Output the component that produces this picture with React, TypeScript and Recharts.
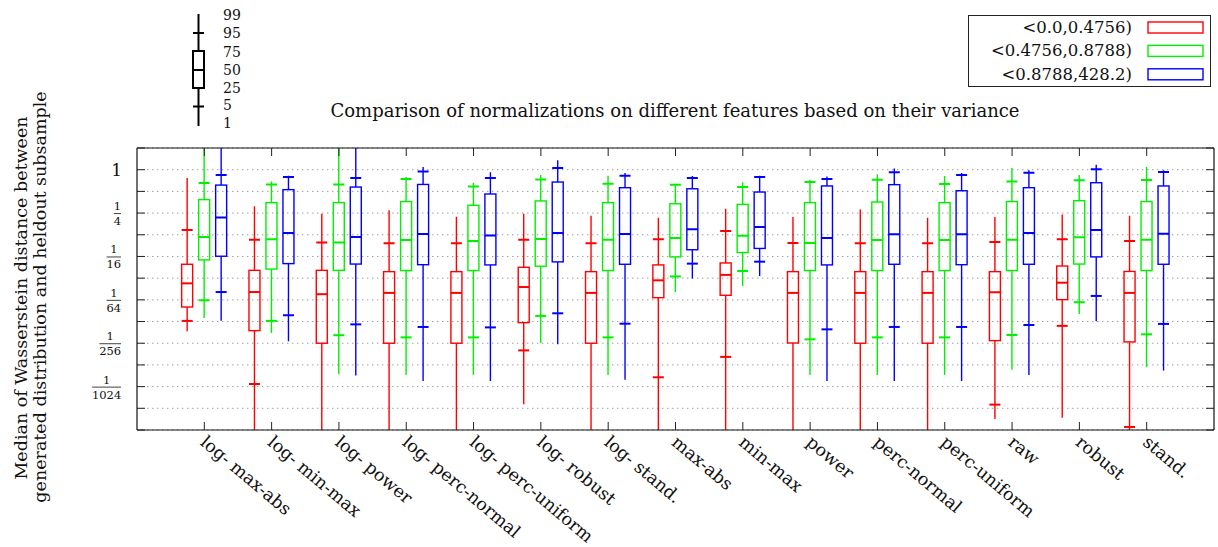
import React from 'react';
import { ComposedChart, Bar, XAxis, YAxis, CartesianGrid, Legend } from 'recharts';

const FONT = '"DejaVu Serif", serif';

// categories (x axis)
const categories = [
  'log- max-abs', 'log- min-max', 'log- power', 'log- perc-normal', 'log- perc-uniform',
  'log- robust', 'log- stand.', 'max-abs', 'min-max', 'power', 'perc-normal',
  'perc-uniform', 'raw', 'robust', 'stand.',
];

// percentiles [1, 5, 25, 50, 75, 95, 99], values in log2 units
const redStats = [
  [-7.45, -6.97, -6.33, -5.24, -4.36, -2.78, -0.38],
  [-13, -9.88, -7.42, -5.64, -4.64, -3.23, -1.69],
  [-13, -12.6, -8.0, -5.74, -4.64, -3.36, -2.03],
  [-13, -12.6, -8.0, -5.68, -4.7, -3.39, -1.87],
  [-13, -12.6, -8.0, -5.68, -4.7, -3.39, -2.17],
  [-10.81, -8.33, -7.05, -5.41, -4.5, -3.23, -2.03],
  [-13, -12.6, -8.0, -5.68, -4.7, -3.39, -2.12],
  [-13, -9.57, -5.9, -5.1, -4.39, -3.21, -2.21],
  [-13, -8.63, -5.79, -4.85, -4.3, -2.83, -1.8],
  [-13, -12.6, -7.99, -5.68, -4.7, -3.38, -2.18],
  [-13, -12.6, -8.0, -5.68, -4.7, -3.39, -1.83],
  [-13, -12.6, -8.0, -5.68, -4.7, -3.39, -2.21],
  [-11.49, -10.83, -7.88, -5.65, -4.7, -3.33, -2.18],
  [-11.44, -7.2, -5.99, -5.21, -4.44, -3.21, -2.06],
  [-13, -11.86, -7.94, -5.68, -4.69, -3.29, -2.12],
];

const greenStats = [
  [-6.84, -6.02, -4.16, -3.1, -1.38, -0.61, 1.2],
  [-7.53, -6.97, -4.58, -3.21, -1.52, -0.68, -0.54],
  [-9.43, -7.63, -4.64, -3.36, -1.52, -0.68, 1.2],
  [-9.46, -7.73, -4.65, -3.24, -1.47, -0.43, -0.34],
  [-9.46, -7.73, -4.65, -3.29, -1.64, -0.77, -0.6],
  [-7.99, -6.74, -4.45, -3.2, -1.44, -0.45, -0.25],
  [-9.46, -7.73, -4.65, -3.23, -1.52, -0.65, -0.28],
  [-5.64, -4.92, -4.02, -3.15, -1.57, -0.69, -0.65],
  [-5.36, -4.67, -3.82, -3.04, -1.6, -0.8, -0.58],
  [-9.46, -7.82, -4.65, -3.38, -1.52, -0.57, -0.46],
  [-9.46, -7.73, -4.65, -3.24, -1.49, -0.46, -0.22],
  [-9.46, -7.73, -4.65, -3.24, -1.52, -0.66, -0.29],
  [-9.22, -7.62, -4.65, -3.23, -1.47, -0.55, 0.08],
  [-6.65, -6.11, -4.35, -3.12, -1.43, -0.49, -0.25],
  [-9.09, -7.59, -4.65, -3.23, -1.47, -0.48, 0.12],
];

const blueStats = [
  [-6.96, -5.64, -3.99, -2.2, -0.71, -0.25, 1.2],
  [-7.91, -6.71, -4.33, -2.92, -0.92, -0.34, -0.28],
  [-9.49, -7.13, -4.35, -3.1, -0.8, -0.38, 1.2],
  [-9.74, -7.25, -4.38, -2.96, -0.68, -0.08, 0.12],
  [-9.74, -7.27, -4.39, -3.03, -1.12, -0.38, -0.12],
  [-8.05, -6.62, -4.25, -2.92, -0.57, 0.08, 0.43],
  [-9.68, -7.1, -4.36, -2.96, -0.83, -0.28, -0.15],
  [-5.02, -4.33, -3.69, -2.75, -0.88, -0.38, -0.29],
  [-4.9, -4.24, -3.63, -2.64, -1.03, -0.34, -0.28],
  [-9.74, -7.36, -4.39, -3.15, -0.75, -0.43, -0.31],
  [-9.74, -7.25, -4.36, -2.98, -0.69, -0.12, 0.05],
  [-9.74, -7.25, -4.38, -2.98, -0.97, -0.25, -0.15],
  [-9.46, -7.16, -4.36, -2.92, -0.83, -0.14, -0.03],
  [-6.99, -5.82, -4.02, -2.78, -0.6, 0.02, 0.23],
  [-9.26, -7.11, -4.36, -2.95, -0.75, -0.11, -0.03],
];

const seriesKeys = ['red', 'green', 'blue'];
const seriesNames = ['<0.0,0.4756)', '<0.4756,0.8788)', '<0.8788,428.2)'];
const seriesColors = ['#ff0000', '#00f000', '#0000ff'];

const yDomain = [-12, 1];
const yTicks = [-12, -11, -10, -9, -8, -7, -6, -5, -4, -3, -2, -1, 0, 1];
const yTickDenominators: Record<string, string> = { '-2': '4', '-4': '16', '-6': '64', '-8': '256', '-10': '1024' };

const keyLabels = ['99', '95', '75', '50', '25', '5', '1'];

const title = 'Comparison of normalizations on different features based on their variance';
const yLabelLines = ['Median of Wasserstein distance between', 'generated distribution and heldout subsample'];

const data = categories.map((name, i) => ({
  name,
  red: redStats[i],
  green: greenStats[i],
  blue: blueStats[i],
}));

const makeBoxShape = (key: string, color: string) => (props: any) => {
  const { x, y, width, height, payload } = props;
  const s: number[] = payload[key];
  if (!s || height === undefined) return <g />;
  const top = Math.min(y, y + height);
  const bot = Math.max(y, y + height);
  const p1 = s[0];
  const p99 = s[6];
  const py = (v: number) => top + ((bot - top) * (p99 - v)) / (p99 - p1);
  const cx = x + width / 2;
  const hw = 5.5;
  const lw = 1.4;
  return (
    <g>
      <line x1={cx} x2={cx} y1={py(p99)} y2={py(s[4])} stroke={color} strokeWidth={lw} />
      <line x1={cx} x2={cx} y1={py(s[2])} y2={py(p1)} stroke={color} strokeWidth={lw} />
      <rect x={cx - hw} y={py(s[4])} width={hw * 2} height={py(s[2]) - py(s[4])} fill="none" stroke={color} strokeWidth={lw} />
      <line x1={cx - hw} x2={cx + hw} y1={py(s[3])} y2={py(s[3])} stroke={color} strokeWidth={2} />
      <line x1={cx - hw} x2={cx + hw} y1={py(s[5])} y2={py(s[5])} stroke={color} strokeWidth={2} />
      <line x1={cx - hw} x2={cx + hw} y1={py(s[1])} y2={py(s[1])} stroke={color} strokeWidth={2} />
    </g>
  );
};

const BottomTick = (props: any) => {
  const { x, y, payload } = props;
  const lx = x - 5;
  const ly = y + 14;
  return (
    <g>
      <line x1={x} x2={x} y1={y} y2={y - 8} stroke="#222" strokeWidth={1} />
      <text x={lx} y={ly} transform={`rotate(40, ${lx}, ${ly})`} textAnchor="start" fontFamily={FONT} fontSize={17.5} fill="#111">
        {payload.value}
      </text>
    </g>
  );
};

const TopTick = (props: any) => {
  const { x, y } = props;
  return <line x1={x} x2={x} y1={y} y2={y + 8} stroke="#222" strokeWidth={1} />;
};

const LeftTick = (props: any) => {
  const { x, y, payload } = props;
  const v = payload.value;
  const den = yTickDenominators[String(v)];
  const right = x - 16;
  const denWidth = den ? den.length * 7.2 : 0;
  return (
    <g>
      <line x1={x} x2={x + 8} y1={y} y2={y} stroke="#222" strokeWidth={1} />
      {v === 0 && (
        <text x={right + 1} y={y + 6} textAnchor="end" fontFamily={FONT} fontSize={17} fill="#111">1</text>
      )}
      {den && (
        <g>
          <text x={right - denWidth / 2} y={y - 3} textAnchor="middle" fontFamily={FONT} fontSize={11.5} fill="#111">1</text>
          <line x1={right - denWidth} x2={right} y1={y + 0.5} y2={y + 0.5} stroke="#111" strokeWidth={0.8} />
          <text x={right - denWidth / 2} y={y + 12} textAnchor="middle" fontFamily={FONT} fontSize={11.5} fill="#111">{den}</text>
        </g>
      )}
    </g>
  );
};

const RightTick = (props: any) => {
  const { x, y } = props;
  return <line x1={x} x2={x - 8} y1={y} y2={y} stroke="#222" strokeWidth={1} />;
};

const LegendBox = () => (
  <svg width={244} height={73} style={{ display: 'block' }}>
    <rect x={0.5} y={0.5} width={242} height={71} fill="#fff" stroke="#222" strokeWidth={1} />
    {seriesNames.map((n, i) => (
      <g key={n}>
        <text x={164} y={18 + i * 23.4} textAnchor="end" fontFamily={FONT} fontSize={16.5} fill="#111">{n}</text>
        <rect x={180} y={7 + i * 23.4} width={55} height={11} fill="none" stroke={seriesColors[i]} strokeWidth={1.4} />
      </g>
    ))}
  </svg>
);

const KeyGlyph = () => {
  const cx = 198.5;
  const ys = [14, 33, 51, 70, 88, 106.5, 126];
  const labelY = [20, 38, 56.5, 74.5, 92.5, 110, 128];
  return (
    <g>
      <line x1={cx} x2={cx} y1={ys[0]} y2={ys[2]} stroke="#000" strokeWidth={2} />
      <line x1={cx} x2={cx} y1={ys[4]} y2={ys[6]} stroke="#000" strokeWidth={2} />
      <rect x={cx - 5.5} y={ys[2]} width={11} height={ys[4] - ys[2]} fill="none" stroke="#000" strokeWidth={2} />
      <line x1={cx - 5.5} x2={cx + 5.5} y1={ys[3]} y2={ys[3]} stroke="#000" strokeWidth={2} />
      <line x1={cx - 5.5} x2={cx + 5.5} y1={ys[1]} y2={ys[1]} stroke="#000" strokeWidth={2} />
      <line x1={cx - 5.5} x2={cx + 5.5} y1={ys[5]} y2={ys[5]} stroke="#000" strokeWidth={2} />
      {keyLabels.map((l, i) => (
        <text key={l} x={223} y={labelY[i]} fontFamily={FONT} fontSize={14} fill="#111">{l}</text>
      ))}
    </g>
  );
};

export default function App() {
  return (
    <div style={{ position: 'absolute', left: 0, top: 0, width: 1218, height: 547, background: '#fff' }}>
      <ComposedChart
        width={1218}
        height={547}
        data={data}
        margin={{ top: 147, right: 3, bottom: 0, left: 0 }}
        barSize={17}
        barGap={0}
      >
        <CartesianGrid horizontal vertical={false} stroke="#9a9a9a" strokeDasharray="1.4 3.6" />
        <XAxis
          dataKey="name"
          type="category"
          interval={0}
          height={117}
          padding={{ left: 33.65, right: 33.65 }}
          tickLine={false}
          tickSize={0}
          tickMargin={0}
          axisLine={{ stroke: '#111', strokeWidth: 1.2 }}
          tick={<BottomTick />}
        />
        <XAxis
          xAxisId="top"
          dataKey="name"
          type="category"
          orientation="top"
          interval={0}
          height={1}
          padding={{ left: 33.65, right: 33.65 }}
          tickLine={false}
          tickSize={0}
          tickMargin={0}
          axisLine={{ stroke: '#111', strokeWidth: 1.2 }}
          tick={<TopTick />}
        />
        <YAxis
          type="number"
          domain={yDomain}
          ticks={yTicks}
          interval={0}
          allowDataOverflow
          width={137}
          tickLine={false}
          tickSize={0}
          tickMargin={0}
          axisLine={{ stroke: '#111', strokeWidth: 1.2 }}
          tick={<LeftTick />}
        />
        <YAxis
          yAxisId="right"
          orientation="right"
          type="number"
          domain={yDomain}
          ticks={yTicks}
          interval={0}
          allowDataOverflow
          width={1}
          tickLine={false}
          tickSize={0}
          tickMargin={0}
          axisLine={{ stroke: '#111', strokeWidth: 1.2 }}
          tick={<RightTick />}
        />
        {seriesKeys.map((k, i) => (
          <Bar
            key={k}
            name={seriesNames[i]}
            dataKey={(d: any) => [d[k][0], d[k][6]]}
            fill={seriesColors[i]}
            isAnimationActive={false}
            shape={makeBoxShape(k, seriesColors[i])}
          />
        ))}
        <Legend
          layout="horizontal"
          verticalAlign="middle"
          align="center"
          content={() => <LegendBox />}
          wrapperStyle={{ position: 'absolute', left: 968, top: 15, width: 244, height: 73 }}
        />
      </ComposedChart>
      <svg width={1218} height={547} style={{ position: 'absolute', left: 0, top: 0, pointerEvents: 'none' }}>
        <KeyGlyph />
        <text x={675} y={116.5} textAnchor="middle" fontFamily={FONT} fontSize={18} fill="#111">{title}</text>
        <text x={27} y={298} transform="rotate(-90, 27, 298)" textAnchor="middle" fontFamily={FONT} fontSize={17.5} fill="#111">{yLabelLines[0]}</text>
        <text x={46} y={297} transform="rotate(-90, 46, 297)" textAnchor="middle" fontFamily={FONT} fontSize={17.5} fill="#111">{yLabelLines[1]}</text>
      </svg>
    </div>
  );
}
